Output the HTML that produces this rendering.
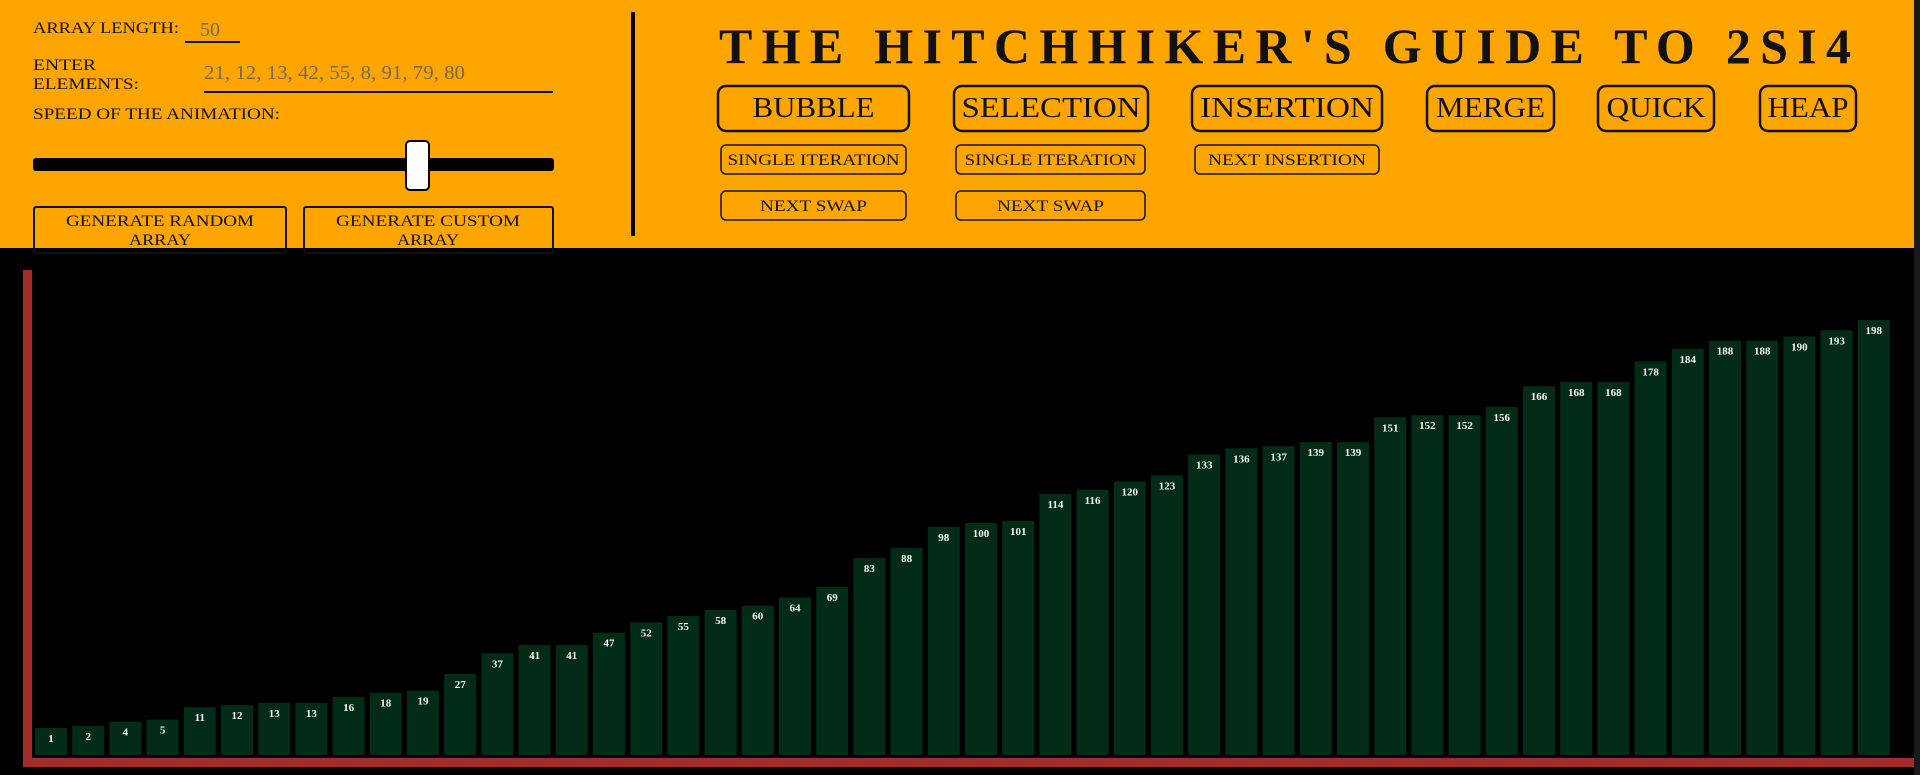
<!DOCTYPE html>
<html><head><meta charset="utf-8"><style>
html,body{margin:0;padding:0;width:1920px;height:775px;overflow:hidden;background:#000;font-family:"Liberation Serif",serif}
svg{position:absolute;left:0;top:0}
</style></head><body>
<svg width="1920" height="775" viewBox="0 0 1920 775">
  <rect x="0" y="0" width="1914" height="248" fill="#FFA500"/>
  <rect x="1914" y="0" width="6" height="775" fill="#1a1a1a"/>
  <g font-family="Liberation Serif, serif" fill="#111">
    <text x="33" y="33" font-size="16" textLength="146" lengthAdjust="spacingAndGlyphs">ARRAY LENGTH:</text>
    <text x="200" y="36" font-size="20" fill="#7a6a4a">50</text>
    <rect x="185" y="41" width="55" height="2" fill="#111"/>
    <text x="33" y="70" font-size="16" textLength="63" lengthAdjust="spacingAndGlyphs">ENTER</text>
    <text x="33" y="89" font-size="16" textLength="106" lengthAdjust="spacingAndGlyphs">ELEMENTS:</text>
    <text x="204" y="79" font-size="20" fill="#7a6a4a" textLength="261" lengthAdjust="spacingAndGlyphs">21, 12, 13, 42, 55, 8, 91, 79, 80</text>
    <rect x="204" y="91" width="349" height="2" fill="#111"/>
    <text x="33" y="119" font-size="16" textLength="247" lengthAdjust="spacingAndGlyphs">SPEED OF THE ANIMATION:</text>
    <rect x="33" y="158" width="521" height="13" rx="3" fill="#000"/>
    <rect x="406" y="141" width="23" height="49" rx="4" fill="#fff" stroke="#000" stroke-width="2"/>
    <rect x="34" y="207" width="252" height="46" rx="2" fill="none" stroke="#111" stroke-width="2"/>
    <text x="160" y="226" font-size="16" text-anchor="middle" textLength="188" lengthAdjust="spacingAndGlyphs">GENERATE RANDOM</text>
    <text x="160" y="245" font-size="16" text-anchor="middle" textLength="62" lengthAdjust="spacingAndGlyphs">ARRAY</text>
    <rect x="304" y="207" width="249" height="46" rx="2" fill="none" stroke="#111" stroke-width="2"/>
    <text x="428" y="226" font-size="16" text-anchor="middle" textLength="184" lengthAdjust="spacingAndGlyphs">GENERATE CUSTOM</text>
    <text x="428" y="245" font-size="16" text-anchor="middle" textLength="62" lengthAdjust="spacingAndGlyphs">ARRAY</text>
    <rect x="631" y="12" width="4" height="224" fill="#000"/>
    <text x="719" y="63" font-size="50" font-weight="bold" textLength="1132" lengthAdjust="spacing">THE HITCHHIKER'S GUIDE TO 2SI4</text>
  </g>
  <g id="btns" font-family="Liberation Serif, serif" fill="#111"></g>
  <g id="chart"></g>
</svg>
<script>
const NS='http://www.w3.org/2000/svg';
function mk(tag,attrs,parent){const e=document.createElementNS(NS,tag);for(const k in attrs)e.setAttribute(k,attrs[k]);parent.appendChild(e);return e;}
const btns=document.getElementById('btns');
const bigButtons=[['BUBBLE',718,909,122],['SELECTION',954,1148,179],['INSERTION',1192,1382,174],['MERGE',1427,1554,109],['QUICK',1598,1714,99],['HEAP',1760,1856,81]];
bigButtons.forEach(b=>{
  const r=mk('rect',{x:b[1],y:86,width:b[2]-b[1],height:45,rx:8,fill:'none',stroke:'#111','stroke-width':2.5},btns);
  
  
  const t=mk('text',{x:(b[1]+b[2])/2,y:117,'font-size':28,'text-anchor':'middle',textLength:b[3],lengthAdjust:'spacingAndGlyphs'},btns);
  t.textContent=b[0];
  
  
});
const smallButtons=[['SINGLE ITERATION',721,906,145,172],['SINGLE ITERATION',956,1145,145,172],['NEXT INSERTION',1195,1379,145,158],['NEXT SWAP',721,906,191,107],['NEXT SWAP',956,1145,191,107]];
smallButtons.forEach(b=>{
  const r=mk('rect',{x:b[1],y:b[3],width:b[2]-b[1],height:29,rx:5,fill:'none',stroke:'#111','stroke-width':1.5},btns);
  
  
  const t=mk('text',{x:(b[1]+b[2])/2,y:b[3]+20,'font-size':16,'text-anchor':'middle',textLength:b[4],lengthAdjust:'spacingAndGlyphs'},btns);
  t.textContent=b[0];
  
  
});
</script>
<script>
const values=[1,2,4,5,11,12,13,13,16,18,19,27,37,41,41,47,52,55,58,60,64,69,83,88,98,100,101,114,116,120,123,133,136,137,139,139,151,152,152,156,166,168,168,178,184,188,188,190,193,198];
const chart=document.getElementById('chart');
const x0=35, step=37.2, bw=32, base=755;
function xPos(i){return x0+i*step;}
function hVal(v){return 25+v*2.071;}
mk('rect',{x:23,y:270,width:9,height:497,fill:'#a52a2a'},chart);
mk('rect',{x:23,y:758,width:1891,height:9,fill:'#a52a2a'},chart);
values.forEach((v,i)=>{
  const h=hVal(v);
  const r=mk('rect',{x:xPos(i),y:base-h,width:bw,height:h,fill:'#022c18'},chart);
  
  
  const t=mk('text',{x:xPos(i)+bw/2,y:base-h+14,'font-size':11,'font-weight':'bold','text-anchor':'middle',fill:'#f4f4f4','font-family':'Liberation Serif, serif'},chart);
  t.textContent=v;
  
  
});
</script>
</body></html>
